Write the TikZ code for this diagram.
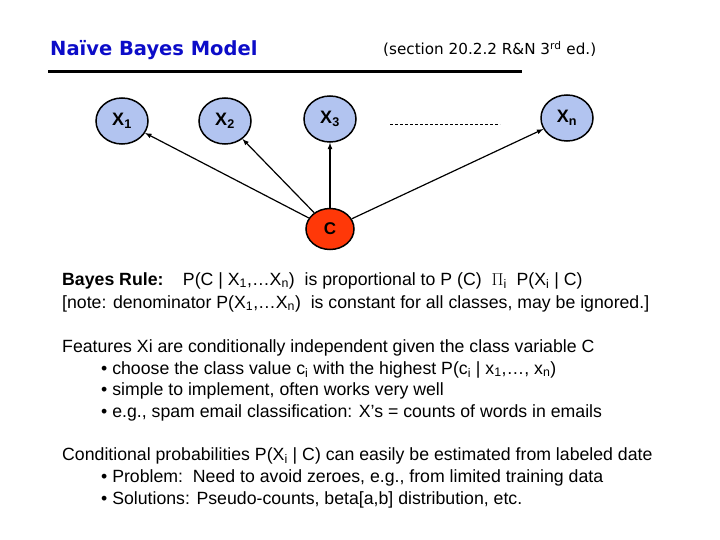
\documentclass[tikz,border=0pt]{standalone}
\usepackage{fontspec}
\setmainfont{Liberation Sans}
\newfontfamily\verdana{DejaVu Sans}
\usetikzlibrary{arrows,shapes.geometric,positioning}
\definecolor{nodeblue}{RGB}{178,196,240}
\definecolor{classred}{RGB}{255,56,8}
\definecolor{titleblue}{RGB}{12,12,200}
\tikzset{arrowout/.style={->,>=latex,line width=1.2pt},feat/.style={ellipse,draw,line width=1.5pt,fill=nodeblue,minimum width=52pt,minimum height=46pt,inner sep=0pt,font=\fontsize{18}{20}\selectfont\bfseries},cls/.style={ellipse,draw,line width=1.5pt,fill=classred,minimum width=48pt,minimum height=41pt,inner sep=0pt,font=\fontsize{17}{20}\selectfont\bfseries},txt/.style={anchor=base west,inner sep=0pt,font=\fontsize{17.7}{20}\selectfont}}

\begin{document}
\begin{tikzpicture}[x=1pt,y=-1pt]
\useasboundingbox (0,0) rectangle (720,540);

%title
\node (title) at (50,56)[anchor=base west,inner sep=0pt,text=titleblue,font=\verdana\fontsize{19.5}{22}\selectfont\bfseries]{Naïve Bayes Model};
\node (ref) at (383,55)[anchor=base west,inner sep=0pt,font=\verdana\fontsize{15.2}{17}\selectfont]{(section 20.2.2 R\&N 3\textsuperscript{rd} ed.)};
\draw[line width=3pt] (48,72) -- (522,72);

%network
\node (x1) at (122,121)[feat]{X\textsubscript{1}};
\node (x2) at (225,121)[feat]{X\textsubscript{2}};
\node (x3) at (330,119)[feat]{X\textsubscript{3}};
\node (xn) at (567,118)[feat]{X\textsubscript{n}};
\node (c) at (330,229)[cls]{C};
\coordinate (d1) at (390,124);
\coordinate (d2) at (500,124);
\draw[dash pattern=on 3pt off 2pt,thin] (d1) -- (d2);
\foreach \x in {x1,x2,x3,xn}
  \draw[arrowout] (c) -- (\x);

%bayes rule
\node (rule1) at (62,285)[txt]{\textbf{Bayes Rule:}\hspace{1.1em}P(C | X\textsubscript{1},…X\textsubscript{n})\ \ is proportional to P (C)\ \ $\Pi$\textsubscript{i}\ \ P(X\textsubscript{i} | C)};
\node (rule2) at (62,308)[txt]{[note: denominator P(X\textsubscript{1},…X\textsubscript{n})\ \ is constant for all classes, may be ignored.]};

%features
\node (feat0) at (62,352)[txt]{Features Xi are conditionally independent given the class variable C};
\node (feat1) at (101,374)[txt]{•\ choose the class value c\textsubscript{i} with the highest P(c\textsubscript{i} | x\textsubscript{1},…, x\textsubscript{n})};
\node (feat2) at (101,395)[txt]{•\ simple to implement, often works very well};
\node (feat3) at (101,417)[txt]{•\ e.g., spam email classification: X’s = counts of words in emails};

%conditionals
\node (cond0) at (62,460)[txt]{Conditional probabilities P(X\textsubscript{i} | C) can easily be estimated from labeled date};
\node (cond1) at (101,482)[txt]{•\ Problem:\ \ Need to avoid zeroes, e.g., from limited training data};
\node (cond2) at (101,504)[txt]{•\ Solutions: Pseudo-counts, beta[a,b] distribution, etc.};

\end{tikzpicture}
\end{document}
